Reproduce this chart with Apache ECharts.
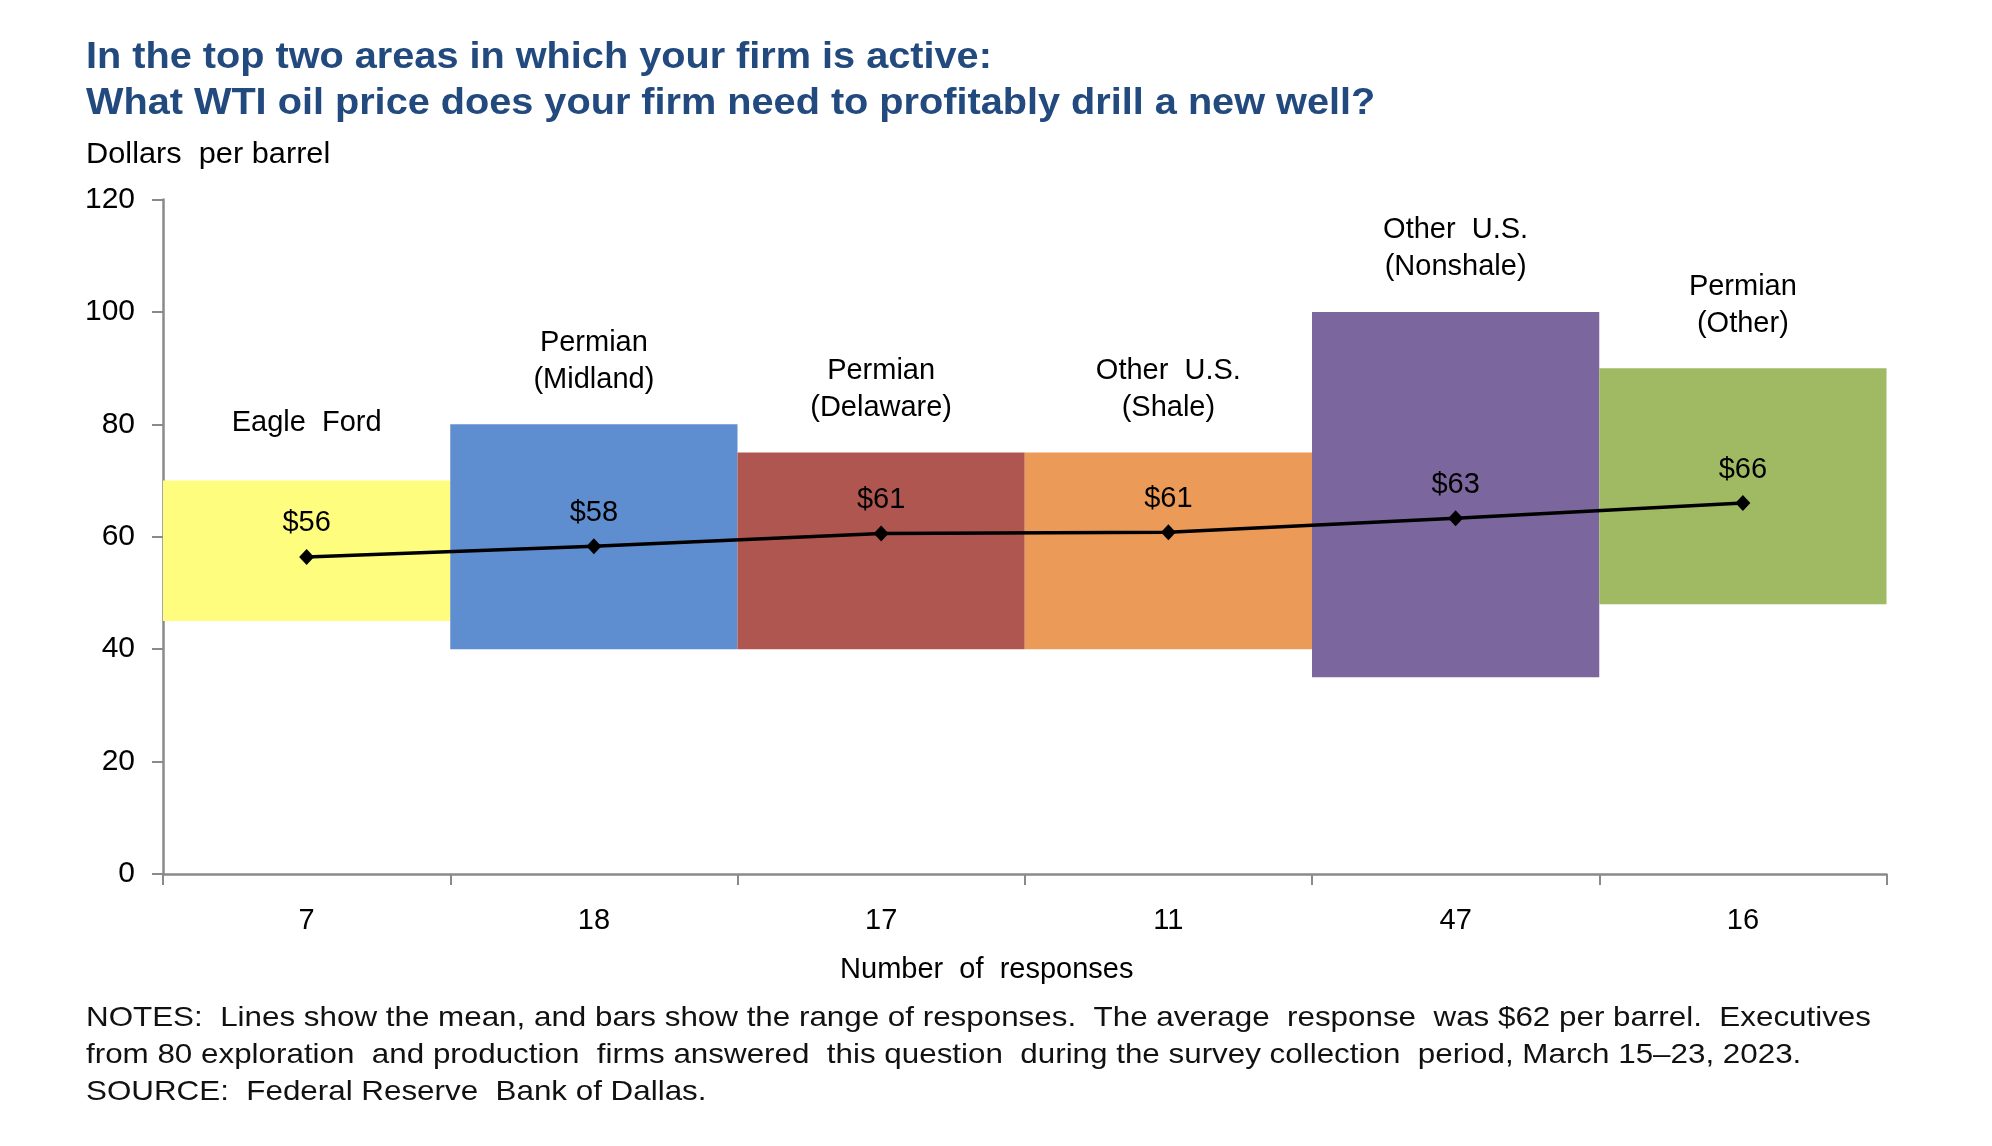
<!DOCTYPE html>
<html>
<head>
<meta charset="utf-8">
<style>
  html, body { margin: 0; padding: 0; background: #ffffff; }
  #chart { width: 1992px; height: 1146px; }
</style>
<script src="https://cdn.jsdelivr.net/npm/echarts@6/dist/echarts.min.js"></script>
</head>
<body>
<div id="chart"></div>
<script>
// ---- Data ----
const areaNames = ['Eagle  Ford', 'Permian\n(Midland)', 'Permian\n(Delaware)', 'Other  U.S.\n(Shale)', 'Other  U.S.\n(Nonshale)', 'Permian\n(Other)'];
const responses = ['7', '18', '17', '11', '47', '16'];
const rangeLow  = [45, 40, 40, 40, 35, 48];
const rangeHigh = [70, 80, 75, 75, 100, 90];
const meanPrice = [56.4, 58.3, 60.6, 60.8, 63.3, 66.0];
const barColors = ['#FFFD7D', '#5F8ED0', '#AF5650', '#EB9A57', '#7B669D', '#9FBA63'];
const yTicks = { min: 0, max: 120, interval: 20 };

const titleText = 'In the top two areas in which your firm is active:\nWhat WTI oil price does your firm need to profitably drill a new well?';
const unitText = 'Dollars  per barrel';
const notesText = 'NOTES:  Lines show the mean, and bars show the range of responses.  The average  response  was $62 per barrel.  Executives\nfrom 80 exploration  and production  firms answered  this question  during the survey collection  period, March 15\u201323, 2023.\nSOURCE:  Federal Reserve  Bank of Dallas.';

const FONT = 'Arial, "Liberation Sans", sans-serif';
const AXIS_GRAY = '#8a8a8a';

const chart = echarts.init(document.getElementById('chart'), null, { renderer: 'canvas' });

const rangeData = rangeHigh.map((h, i) => ({
  value: h - rangeLow[i],
  itemStyle: { color: barColors[i] },
  label: { distance: areaNames[i].indexOf('\n') >= 0 ? 26 : 39 }
}));

const option = {
  backgroundColor: '#ffffff',
  animation: false,
  grid: { left: 163, right: 105.5, top: 199.5, bottom: 272, containLabel: false },
  xAxis: {
    type: 'category',
    data: responses,
    boundaryGap: true,
    axisLine: { show: true, lineStyle: { color: AXIS_GRAY, width: 2.5 } },
    axisTick: { show: true, alignWithLabel: false, length: 11, lineStyle: { color: AXIS_GRAY, width: 2 } },
    axisLabel: { margin: 32, fontFamily: FONT, fontSize: 29, color: '#000' },
    splitLine: { show: false },
    name: 'Number  of  responses',
    nameLocation: 'middle',
    nameGap: 81,
    nameTextStyle: { fontFamily: FONT, fontSize: 29, color: '#000', padding: [0, 76, 0, 0] }
  },
  yAxis: {
    type: 'value',
    min: yTicks.min,
    max: yTicks.max,
    interval: yTicks.interval,
    axisLine: { show: true, lineStyle: { color: AXIS_GRAY, width: 2.5 } },
    axisTick: { show: true, inside: false, length: 11, lineStyle: { color: AXIS_GRAY, width: 2 } },
    axisLabel: { margin: 28, fontFamily: FONT, fontSize: 30, color: '#000' },
    splitLine: { show: false }
  },
  graphic: [
    {
      type: 'text',
      x: 86,
      y: 35,
      scaleX: 1.072,
      style: {
        text: titleText,
        font: 'bold 37px ' + FONT,
        fill: '#224A7E',
        lineHeight: 46,
        verticalAlign: 'top'
      }
    },
    {
      type: 'text',
      x: 86,
      y: 137,
      scaleX: 1.06,
      style: { text: unitText, font: '29px ' + FONT, fill: '#000', verticalAlign: 'top', lineHeight: 35 }
    },
    {
      type: 'text',
      x: 86,
      y: 1000,
      scaleX: 1.12,
      style: {
        text: notesText,
        font: '28px ' + FONT,
        fill: '#111',
        lineHeight: 37,
        verticalAlign: 'top'
      }
    }
  ],
  series: [
    {
      name: 'base',
      type: 'bar',
      stack: 'range',
      data: rangeLow,
      barWidth: '100%',
      barGap: '-100%',
      itemStyle: { color: 'transparent' },
      silent: true,
      z: 1
    },
    {
      name: 'range',
      type: 'bar',
      stack: 'range',
      data: rangeData,
      barWidth: '100%',
      label: {
        show: true,
        position: 'top',
        formatter: p => areaNames[p.dataIndex],
        fontFamily: FONT,
        fontSize: 29,
        lineHeight: 37,
        color: '#000',
        align: 'center'
      },
      z: 2
    },
    {
      name: 'mean',
      type: 'line',
      data: meanPrice,
      symbol: 'diamond',
      symbolSize: [15, 16],
      lineStyle: { color: '#000', width: 3.5 },
      itemStyle: { color: '#000' },
      label: {
        show: true,
        position: 'top',
        distance: 11,
        formatter: p => '$' + Math.round(p.value),
        fontFamily: FONT,
        fontSize: 29,
        color: '#000'
      },
      z: 5
    }
  ]
};

chart.setOption(option);
</script>
</body>
</html>
